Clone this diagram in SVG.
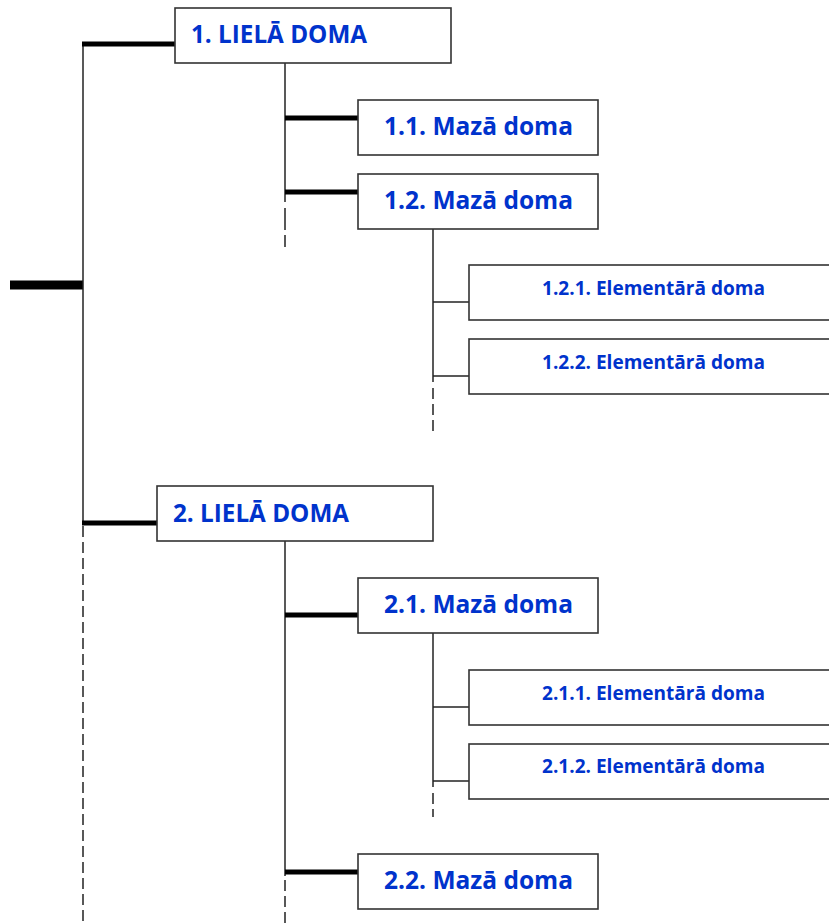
<svg xmlns="http://www.w3.org/2000/svg" width="829" height="924" viewBox="0 0 829 924">
<style>
.box{fill:#fff;stroke:#333;stroke-width:1.6}
.t{font-family:"Open Sans","Noto Sans","Liberation Sans",sans-serif;font-weight:bold;fill:#0033cc}
.big{font-size:25px}
.small{font-size:19px}
.thin{stroke:#222;stroke-width:1.5;fill:none}
.thick{stroke:#000;stroke-width:5;fill:none}
.dash{stroke:#222;stroke-width:1.5;fill:none;stroke-dasharray:11 5}
</style>
<rect width="829" height="924" fill="#fff"/>
<g id="connectors">
<line class="thick" x1="10" y1="285" x2="83" y2="285" style="stroke-width:9"/>
<line class="thin" x1="83" y1="42" x2="83" y2="523"/>
<line class="dash" x1="83" y1="526" x2="83" y2="924"/>
<line class="thick" x1="82" y1="44" x2="175" y2="44"/>
<line class="thick" x1="82" y1="523" x2="157" y2="523"/>
<line class="thin" x1="285" y1="63" x2="285" y2="202"/>
<line class="dash" x1="285" y1="208" x2="285" y2="247" style="stroke-dasharray:22 5"/>
<line class="thick" x1="285" y1="118" x2="358" y2="118"/>
<line class="thick" x1="285" y1="192" x2="358" y2="192"/>
<line class="thin" x1="433" y1="229" x2="433" y2="382"/>
<line class="dash" x1="433" y1="388" x2="433" y2="431"/>
<line class="thin" x1="433" y1="302" x2="469" y2="302"/>
<line class="thin" x1="433" y1="376" x2="469" y2="376"/>
<line class="thin" x1="285" y1="541" x2="285" y2="876"/>
<line class="dash" x1="285" y1="880" x2="285" y2="924"/>
<line class="thick" x1="285" y1="615" x2="358" y2="615"/>
<line class="thick" x1="285" y1="872" x2="358" y2="872"/>
<line class="thin" x1="433" y1="633" x2="433" y2="787"/>
<line class="dash" x1="433" y1="793" x2="433" y2="817"/>
<line class="thin" x1="433" y1="707" x2="469" y2="707"/>
<line class="thin" x1="433" y1="781" x2="469" y2="781"/>
</g>
<g id="n1"><rect class="box" x="175" y="8" width="276" height="55"/><text class="t big" x="191" y="43" textLength="176" lengthAdjust="spacingAndGlyphs">1. LIELĀ DOMA</text></g>
<g id="n11"><rect class="box" x="358" y="100" width="240" height="55"/><text class="t big" x="384" y="135" textLength="189" lengthAdjust="spacingAndGlyphs">1.1. Mazā doma</text></g>
<g id="n12"><rect class="box" x="358" y="174" width="240" height="55"/><text class="t big" x="384" y="209" textLength="189" lengthAdjust="spacingAndGlyphs">1.2. Mazā doma</text></g>
<g id="n121"><rect class="box" x="469" y="265" width="380" height="55"/><text class="t small" x="542" y="295" textLength="223" lengthAdjust="spacingAndGlyphs">1.2.1. Elementārā doma</text></g>
<g id="n122"><rect class="box" x="469" y="339" width="380" height="55"/><text class="t small" x="542" y="369" textLength="223" lengthAdjust="spacingAndGlyphs">1.2.2. Elementārā doma</text></g>
<g id="n2"><rect class="box" x="157" y="486" width="276" height="55"/><text class="t big" x="173" y="522" textLength="176" lengthAdjust="spacingAndGlyphs">2. LIELĀ DOMA</text></g>
<g id="n21"><rect class="box" x="358" y="578" width="240" height="55"/><text class="t big" x="384" y="613" textLength="189" lengthAdjust="spacingAndGlyphs">2.1. Mazā doma</text></g>
<g id="n211"><rect class="box" x="469" y="670" width="380" height="55"/><text class="t small" x="542" y="700" textLength="223" lengthAdjust="spacingAndGlyphs">2.1.1. Elementārā doma</text></g>
<g id="n212"><rect class="box" x="469" y="744" width="380" height="55"/><text class="t small" x="542" y="773" textLength="223" lengthAdjust="spacingAndGlyphs">2.1.2. Elementārā doma</text></g>
<g id="n22"><rect class="box" x="358" y="854" width="240" height="55"/><text class="t big" x="384" y="889" textLength="189" lengthAdjust="spacingAndGlyphs">2.2. Mazā doma</text></g>
</svg>
